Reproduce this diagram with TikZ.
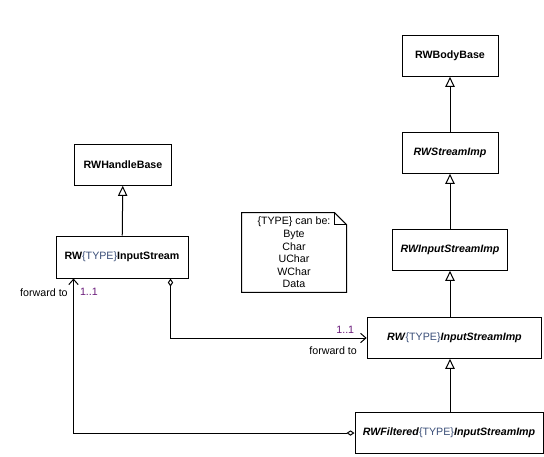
\documentclass[tikz,border=0pt]{standalone}
\usepackage{fontspec}
\setmainfont{Liberation Sans}
\usetikzlibrary{positioning, arrows.meta, calc}
\definecolor{typecol}{HTML}{3A4E78}
\definecolor{multcol}{HTML}{6A1B7A}

% template parameter inside class names
\newcommand{\tparam}{\textnormal{\color{typecol}\{TYPE\}}}

\begin{document}
\begin{tikzpicture}[x=0.75pt, y=-0.75pt,
    font=\fontsize{8}{9.4}\selectfont, line width=0.75pt,
    classbox/.style={draw, minimum height=30.5pt, inner sep=2pt, font=\fontsize{8}{9.4}\selectfont\bfseries},
    abstractbox/.style={classbox, font=\fontsize{8}{9.4}\selectfont\bfseries\itshape},
    inherit/.style={-{Triangle[open, length=7.5pt, width=7pt]}},
    forward/.style={{Diamond[open, length=6pt, width=4pt]}-{Straight Barb[length=4pt, width=7pt]}},
    multlabel/.style={text=multcol, inner sep=0pt},
    rolelabel/.style={inner sep=0pt}]
  \useasboundingbox (0,0) rectangle (544,457);

  % right hierarchy
  \node[classbox, minimum width=72pt] (bodybase) at (450,56) {RWBodyBase};
  \node[abstractbox, minimum width=72pt] (streamimp) at (450,153) {RWStreamImp};
  \node[abstractbox, minimum width=86pt] (instreamimp) at (450,250) {RWInputStreamImp};
  \node[abstractbox, minimum width=131pt] (typeimp) at (454.5,338) {RW\tparam InputStreamImp};
  \node[abstractbox, minimum width=141pt] (filtered) at (449,433) {RWFiltered\tparam InputStreamImp};

  % left hierarchy
  \node[classbox, minimum width=72.75pt] (handlebase) at (123,165) {RWHandleBase};
  \node[classbox, minimum width=99pt, minimum height=31.5pt] (instream) at (122,257) {RW\tparam InputStream};

  % note
  \node[minimum width=78pt, minimum height=59pt, inner sep=1pt, align=center] (note) at (294,252.5)
    {\{TYPE\} can be:\\Byte\\Char\\UChar\\WChar\\Data};
  \draw (note.north west) -- ($(note.north east)+(-12,0)$) -- ($(note.north east)+(0,12)$)
    -- (note.south east) -- (note.south west) -- cycle;
  \draw ($(note.north east)+(-12,0)$) -- ($(note.north east)+(-12,12)$) -- ($(note.north east)+(0,12)$);

  % generalisations
  \draw[inherit] (streamimp) -- (bodybase);
  \draw[inherit] (instreamimp) -- (streamimp);
  \draw[inherit] (typeimp.north -| instreamimp) -- (instreamimp.south);
  \draw[inherit] (filtered.north -| instreamimp) -- (typeimp.south -| instreamimp);
  \draw[inherit] (instream) -- (handlebase);

  % forwarding associations
  \coordinate (aggin) at ($(instream.south east)+(-18,0)$);
  \coordinate (fwdin) at ($(instream.south west)+(18,0)$);
  \draw[forward] (aggin) |- (typeimp.west);
  \node[multlabel, above left=3pt and 9pt of typeimp.west] {1..1};
  \node[rolelabel, below left=6pt and 7pt of typeimp.west] {forward to};

  \draw[forward] (filtered.west) -| (fwdin);
  \node[rolelabel, below left=7pt and 4pt of fwdin] {forward to};
  \node[multlabel, below right=7pt and 4.5pt of fwdin] {1..1};
\end{tikzpicture}
\end{document}
